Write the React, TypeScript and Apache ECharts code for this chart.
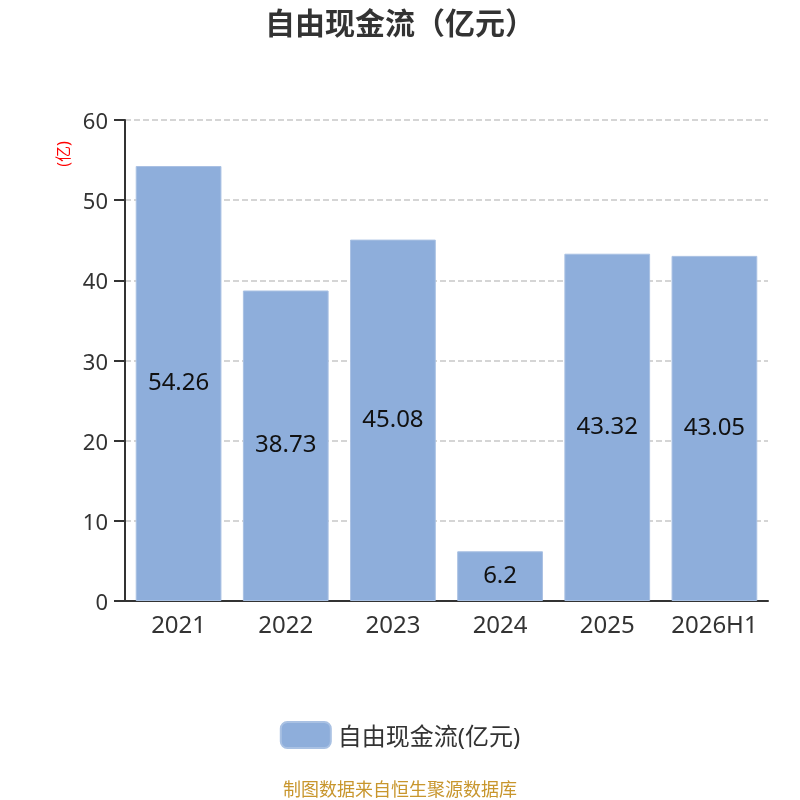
import React, { useEffect, useRef } from "react";
import * as echarts from "echarts";

const categories = ["2021", "2022", "2023", "2024", "2025", "2026H1"];
const values = [54.26, 38.73, 45.08, 6.2, 43.32, 43.05];
const seriesName = "自由现金流(亿元)";
const titleText = "自由现金流（亿元）";
const unitText = "(亿)";
const sourceText = "制图数据来自恒生聚源数据库";

const FONT = '"Noto Sans", "Noto Sans CJK SC", sans-serif';

export default function App() {
  const ref = useRef<HTMLDivElement>(null);
  useEffect(() => {
    if (!ref.current) return;
    const chart = echarts.init(ref.current, null, { renderer: "svg" });
    chart.setOption({
      animation: false,
      textStyle: { fontFamily: FONT },
      title: {
        text: titleText,
        left: "center",
        top: 2,
        textStyle: { fontSize: 30, fontWeight: "bold", color: "#333", fontFamily: FONT },
      },
      legend: {
        data: [seriesName],
        top: 716,
        left: "center",
        itemWidth: 50,
        itemHeight: 26,
        itemGap: 10,
        icon: "roundRect",
        textStyle: { fontSize: 24, color: "#333", fontFamily: FONT, padding: [0, 0, 0, 2] },
      },
      grid: { left: 125, right: 32, top: 120, bottom: 199, containLabel: false },
      xAxis: {
        type: "category",
        data: categories,
        axisLine: { lineStyle: { color: "#333", width: 2 } },
        axisTick: { interval: 0, length: 7, lineStyle: { color: "#333", width: 2 } },
        axisLabel: { interval: 0, fontSize: 24, color: "#333", margin: 10, fontFamily: FONT },
      },
      yAxis: {
        type: "value",
        min: 0,
        max: 60,
        interval: 10,
        axisLine: { show: true, lineStyle: { color: "#333", width: 2 } },
        axisTick: { show: true, length: 11, lineStyle: { color: "#333", width: 2 } },
        axisLabel: { fontSize: 22, color: "#333", margin: 17, fontFamily: FONT },
        splitLine: { lineStyle: { type: "dashed", color: "#c8c8c8", width: 1.5 } },
      },
      series: [
        {
          name: seriesName,
          type: "bar",
          data: values,
          barWidth: "80%",
          itemStyle: { color: "#8eaedb", borderColor: "#a9c1e3", borderWidth: 1 },
          label: {
            show: true,
            position: "inside",
            fontSize: 24,
            color: "#111",
            fontFamily: FONT,
            offset: [0, -3],
          },
        },
      ],
      graphic: [
        {
          type: "text",
          x: 63,
          y: 154,
          rotation: Math.PI / 2,
          style: {
            text: unitText,
            fill: "#ff0000",
            fontSize: 16,
            fontFamily: FONT,
            align: "center",
            verticalAlign: "middle",
          },
        },
        {
          type: "text",
          left: "center",
          top: 780,
          style: {
            text: sourceText,
            fill: "#c8962d",
            fontSize: 18,
            fontFamily: FONT,
          },
        },
      ],
    });
    return () => chart.dispose();
  }, []);
  return (
    <div
      ref={ref}
      style={{ position: "fixed", left: 0, top: 0, width: 800, height: 800 }}
    />
  );
}
